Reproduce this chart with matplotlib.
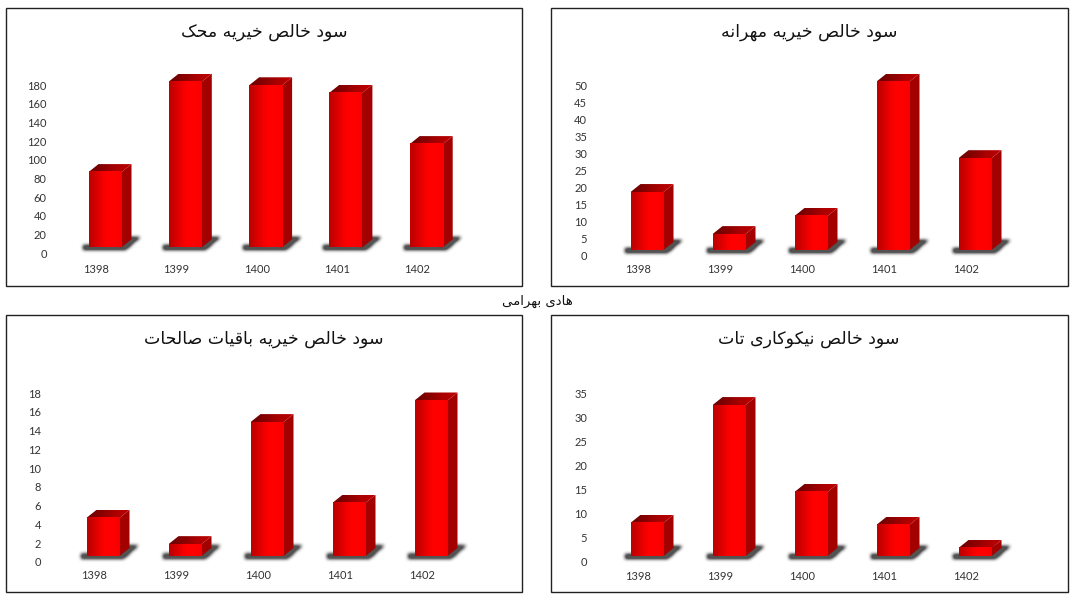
#!/usr/bin/env python

import numpy as np
import matplotlib
matplotlib.use('Agg')
import matplotlib.pyplot as plt
from matplotlib.patches import Polygon, Rectangle

WIDTH_PX  = 1073
HEIGHT_PX = 598
DPI       = 100

YEARS = ['1398', '1399', '1400', '1401', '1402']

TITLE_MAHAK    = 'سود خالص خیریه محک'
TITLE_MEHRANEH = 'سود خالص خیریه مهرانه'
TITLE_BAGHIAT  = 'سود خالص خیریه باقیات صالحات'
TITLE_TAT      = 'سود خالص نیکوکاری تات'
FOOTER         = 'هادی بهرامی'

VALUES_MAHAK    = [87, 184, 180, 172, 117]
VALUES_MEHRANEH = [18.7, 6.4, 11.7, 51, 28.6]
VALUES_BAGHIAT  = [4.7, 1.9, 14.9, 6.3, 17.2]
VALUES_TAT      = [8.1, 32.5, 14.5, 7.7, 2.9]

TICKS_MAHAK    = list(range(0, 181, 20))
TICKS_MEHRANEH = list(range(0, 51, 5))
TICKS_BAGHIAT  = list(range(0, 19, 2))
TICKS_TAT      = list(range(0, 36, 5))

BAR_WIDTH_PX = 33
DEPTH_X_PX   = 10
DEPTH_Y_PX   = 8
FLOOR_PX     = 6   # bars stand this far above the zero tick
SHIFT_PX     = 9   # bars stand this far right of the year label
HEADROOM_PX  = 30  # axes go on above the top tick so tall bars are not clipped

SIDE_COLOR = '#A30000'
RED_RAMP   = np.array([[[0.76, 0, 0], [0.86, 0, 0], [0.95, 0, 0], [1, 0, 0], [1, 0, 0], [0.98, 0, 0]]])
TOP_RAMP   = np.array([[[0.45, 0, 0], [0.55, 0, 0], [0.66, 0, 0], [0.72, 0, 0]]])

# isolated, final, initial, medial
FORMS = {
    'س': (0xFEB1, 0xFEB2, 0xFEB3, 0xFEB4), 'و': (0xFEED, 0xFEEE, None, None),
    'د': (0xFEA9, 0xFEAA, None, None),     'خ': (0xFEA5, 0xFEA6, 0xFEA7, 0xFEA8),
    'ا': (0xFE8D, 0xFE8E, None, None),     'ل': (0xFEDD, 0xFEDE, 0xFEDF, 0xFEE0),
    'ص': (0xFEB9, 0xFEBA, 0xFEBB, 0xFEBC), 'ی': (0xFBFC, 0xFBFD, 0xFBFE, 0xFBFF),
    'ر': (0xFEAD, 0xFEAE, None, None),     'ه': (0xFEE9, 0xFEEA, 0xFEEB, 0xFEEC),
    'م': (0xFEE1, 0xFEE2, 0xFEE3, 0xFEE4), 'ح': (0xFEA1, 0xFEA2, 0xFEA3, 0xFEA4),
    'ک': (0xFB8E, 0xFB8F, 0xFB90, 0xFB91), 'ن': (0xFEE5, 0xFEE6, 0xFEE7, 0xFEE8),
    'ب': (0xFE8F, 0xFE90, 0xFE91, 0xFE92), 'ق': (0xFED5, 0xFED6, 0xFED7, 0xFED8),
    'ت': (0xFE95, 0xFE96, 0xFE97, 0xFE98),
}


#
# matplotlib does no Arabic shaping, so pick the joined glyphs and reverse the string
#
def shape(text):
    result = []

    for i, char in enumerate(text):
        if char not in FORMS:
            result.append(char)
            continue

        prev = text[i - 1] if i > 0 else ' '
        next = text[i + 1] if i + 1 < len(text) else ' '
        joinsPrev = prev in FORMS and FORMS[prev][2] is not None
        joinsNext = next in FORMS and FORMS[char][2] is not None
        index = {(False, False): 0, (True, False): 1, (False, True): 2, (True, True): 3}[(joinsPrev, joinsNext)]
        result.append(chr(FORMS[char][index]))

    return ''.join(reversed(result))


def fig_x(px):
    return px / WIDTH_PX


def fig_y(px):
    return 1 - px / HEIGHT_PX


#
# Blurred floor shadow behind one bar, as an alpha mask in pixel steps
#
def shadow_mask():
    rows, cols = 26, BAR_WIDTH_PX + 36
    yy, xx = np.mgrid[0:rows, 0:cols]
    # mask origin is 10px left of the bar, bar foot at row 18
    xb = xx - 10
    yb = yy - 18
    foot = (yb >= -2) & (yb <= 2) & (xb >= -6) & (xb <= BAR_WIDTH_PX + 2)
    side = (yb <= 2) & (yb >= -10) & (xb >= BAR_WIDTH_PX - 4) & (xb <= BAR_WIDTH_PX + 6 - yb * 1.15)
    mask = (foot | side).astype(float)
    kernel = np.array([1, 2, 3, 2, 1], dtype=float) / 9
    for _ in range(2):
        mask = np.apply_along_axis(lambda r: np.convolve(r, kernel, mode='same'), 0, mask)
        mask = np.apply_along_axis(lambda r: np.convolve(r, kernel, mode='same'), 1, mask)
    image = np.zeros((rows, cols, 4))
    image[..., :3] = 0.2
    image[..., 3] = np.minimum(mask * 1.3, 0.85)
    return image


#
# Draws one panel: frame, title, axis and pseudo 3D bars
#
def plot_panel(fig, box, originPx, spacingPx, topTickPx, title, titleXY, values, ticks, padX, padY):
    left, top, right, bottom = box
    fig.add_artist(Rectangle((fig_x(left), fig_y(bottom)), (right - left) / WIDTH_PX, (bottom - top) / HEIGHT_PX,
                             transform=fig.transFigure, facecolor='white', edgecolor='#222222', linewidth=1.0,
                             zorder=-1))
    fig.text(fig_x(titleXY[0]), fig_y(titleXY[1]), shape(title), ha='center', va='center',
             fontsize=12.5, family='DejaVu Sans', color='#111111')

    x0, y0 = originPx
    unitX = 1 / spacingPx
    unitY = (ticks[-1] - ticks[0]) / (y0 - topTickPx)
    yMax = ticks[-1] + HEADROOM_PX * unitY

    ax = fig.add_axes([fig_x(x0 - spacingPx / 2), fig_y(y0), spacingPx * 5 / WIDTH_PX,
                       (y0 - topTickPx + HEADROOM_PX) / HEIGHT_PX])
    ax.patch.set_alpha(0)

    floor = FLOOR_PX * unitY
    barWidth = BAR_WIDTH_PX * unitX
    shift = SHIFT_PX * unitX
    depthX = DEPTH_X_PX * unitX
    depthY = DEPTH_Y_PX * unitY
    shadow = shadow_mask()

    positions = np.arange(len(values))
    heights = [v - floor for v in values]
    bars = ax.bar(positions + shift, heights, barWidth, bottom=floor, color='red', clip_on=False, zorder=3)

    for bar in bars:
        xl, w = bar.get_x(), bar.get_width()
        yb, yt = bar.get_y(), bar.get_y() + bar.get_height()
        sh = ax.imshow(shadow, extent=[xl - 10 * unitX, xl + (BAR_WIDTH_PX + 26) * unitX, yb - 8 * unitY, yb + 18 * unitY],
                       aspect='auto', zorder=1, interpolation='bilinear')
        sh.set_clip_on(False)

        # side face runs under the front face so no white seam shows
        ax.add_patch(Polygon([(xl + w - 2 * unitX, yb), (xl + w, yb), (xl + w + depthX, yb + depthY),
                              (xl + w + depthX, yt + depthY), (xl + w, yt), (xl + w - 2 * unitX, yt)],
                             facecolor=SIDE_COLOR, edgecolor='none', clip_on=False, zorder=2))

        topFace = Polygon([(xl, yt), (xl + w, yt), (xl + w + depthX, yt + depthY), (xl + depthX, yt + depthY)],
                          facecolor='none', edgecolor='none', zorder=2)
        ax.add_patch(topFace)
        topImage = ax.imshow(TOP_RAMP, extent=[xl, xl + w + depthX, yt - unitY, yt + depthY], aspect='auto',
                             zorder=2.5, interpolation='bilinear')
        topImage.set_clip_path(topFace)

        face = ax.imshow(RED_RAMP, extent=[xl, xl + w, yb, yt], aspect='auto', zorder=4, interpolation='bilinear')
        face.set_clip_on(False)

    ax.set_xlim(-0.5, 4.5)
    ax.set_ylim(ticks[0], yMax)
    ax.set_xticks(positions)
    ax.set_xticklabels(YEARS)
    ax.set_yticks(ticks)
    ax.tick_params(length=0, labelsize=8, labelcolor='#333333')
    ax.tick_params(axis='x', pad=padX)
    ax.tick_params(axis='y', pad=padY)
    for label in ax.get_xticklabels() + ax.get_yticklabels():
        label.set_family('Lato')
    for spine in ax.spines.values():
        spine.set_visible(False)


def main():
    fig = plt.figure(figsize=(WIDTH_PX / DPI, HEIGHT_PX / DPI), dpi=DPI, facecolor='white')

    plot_panel(fig, (6, 8, 522, 286), (96, 253.3), 80.3, 85.3, TITLE_MAHAK, (264, 32), VALUES_MAHAK, TICKS_MAHAK, 7.5, 6.5)
    plot_panel(fig, (551, 8, 1068, 286), (638, 256), 82, 85, TITLE_MEHRANEH, (809, 32), VALUES_MEHRANEH, TICKS_MEHRANEH, 6, 7)
    plot_panel(fig, (6, 315, 522, 592), (94, 562), 82, 393, TITLE_BAGHIAT, (264, 339), VALUES_BAGHIAT, TICKS_BAGHIAT, 6, 8.5)
    plot_panel(fig, (551, 315, 1068, 592), (638, 562), 82, 393, TITLE_TAT, (809, 339), VALUES_TAT, TICKS_TAT, 6.5, 7)

    fig.text(fig_x(537), fig_y(301), shape(FOOTER), ha='center', va='center', fontsize=9.5,
             family='DejaVu Sans', color='#111111')

    fig.savefig('out.png', dpi=DPI)
    plt.close(fig)


main()
